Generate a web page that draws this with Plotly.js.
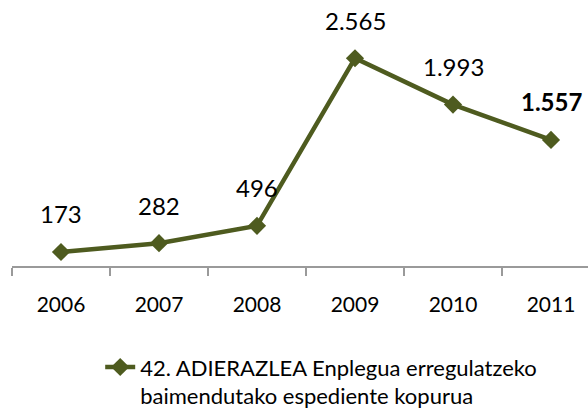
<!DOCTYPE html>
<html>
<head>
<meta charset="utf-8">
<script src="https://cdn.plot.ly/plotly-3.0.1.min.js"></script>
<style>
html,body{margin:0;padding:0;overflow:hidden;background:#fff;width:588px;height:412px;}
#chart{width:600px;height:412px;}
</style>
</head>
<body>
<div id="chart"></div>
<script>
const years = ['2006','2007','2008','2009','2010','2011'];
const values = [173, 282, 496, 2565, 1993, 1557];
const valueLabels = ['173','282','496','2.565','1.993','<b>1.557</b>'];
const seriesName = '42. ADIERAZLEA Enplegua erregulatzeko<br>baimendutako espediente kopurua';

const lineColor = '#4E5B1F';
const font = 'Lato, "Open Sans", sans-serif';

const trace = {
  type: 'scatter',
  mode: 'lines+markers',
  x: years,
  y: values,
  name: seriesName,
  line: {color: lineColor, width: 4.5},
  marker: {symbol: 'diamond', size: 14, color: lineColor},
  cliponaxis: false,
  hoverinfo: 'none'
};

// data labels placed on the category index of each year
const annotations = years.map((yr, i) => ({
  x: i, y: values[i], xref: 'x', yref: 'y',
  text: valueLabels[i], showarrow: false,
  yshift: 38, font: {family: 'Lato', size: 24, color: '#000'}
}));

const layout = {
  width: 600, height: 412,
  margin: {l: 12, r: 0, t: 23, b: 146, autoexpand: false},
  paper_bgcolor: '#fff', plot_bgcolor: '#fff',
  showlegend: true,
  legend: {
    orientation: 'h', x: 0.15, xanchor: 'left', y: -0.33, yanchor: 'top',
    valign: 'top', font: {family: font, size: 22, color: '#000'}
  },
  xaxis: {
    type: 'category', range: [-0.5, 5.5], automargin: false,
    showline: true, linecolor: '#9a9a9a', linewidth: 1.5,
    ticks: 'outside', tickson: 'boundaries', ticklen: 8, tickcolor: '#9a9a9a', tickwidth: 1.5,
    showgrid: false, zeroline: false,
    ticklabelstandoff: 19,
    tickfont: {family: font, size: 21, color: '#000'}
  },
  yaxis: {
    range: [0, 3000], automargin: false, showticklabels: false, showline: false,
    ticks: '', showgrid: false, zeroline: false
  },
  annotations: annotations
};

Plotly.newPlot('chart', [trace], layout, {displayModeBar: false});
</script>
</body>
</html>
